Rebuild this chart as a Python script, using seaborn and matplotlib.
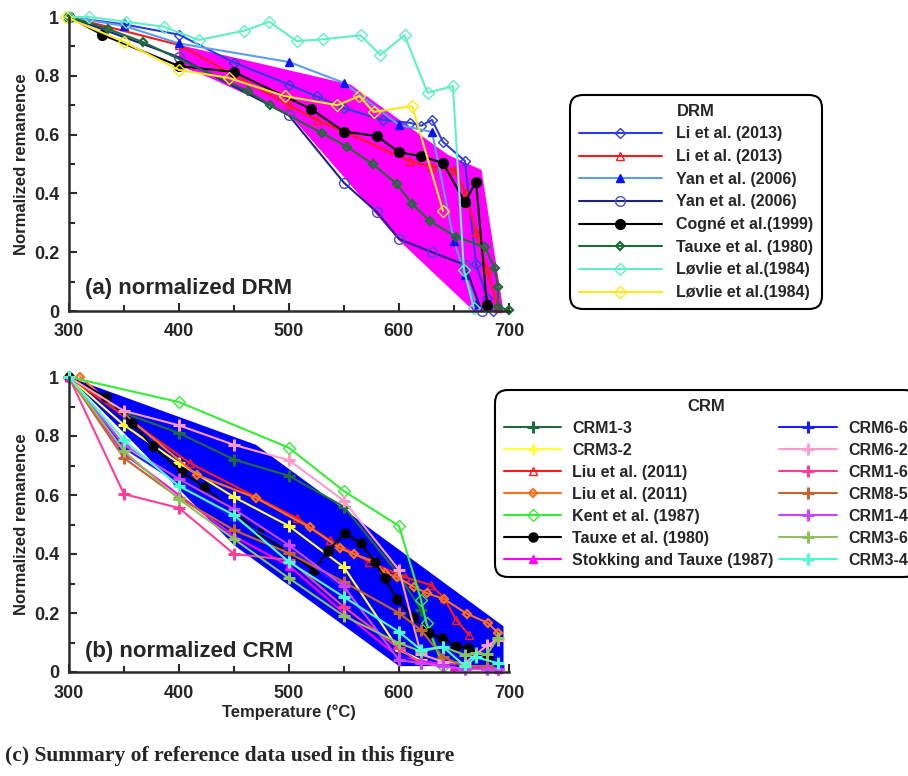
import numpy as np
import pandas as pd
import matplotlib
matplotlib.use("Agg")
import matplotlib.pyplot as plt
import seaborn as sns
from matplotlib.ticker import MultipleLocator, FuncFormatter

# ---------------- DRM data: temperature (degC) and normalized remanence ----------------
li13_blue_T = [300, 350, 400, 450, 500, 525, 550, 585, 610, 620, 630, 640, 660, 670, 680, 685]
li13_blue_v = [1.0, 0.975, 0.94, 0.845, 0.77, 0.73, 0.69, 0.65, 0.64, 0.63, 0.65, 0.575, 0.51, 0.16, 0.045, 0.0]

li13_red_T = [300, 400, 500, 525, 550, 610, 630, 650, 660, 670, 680, 690]
li13_red_v = [1.0, 0.905, 0.70, 0.65, 0.61, 0.51, 0.49, 0.48, 0.405, 0.27, 0.14, 0.01]

yan06_tri_T = [300, 350, 400, 500, 550, 600, 630, 650, 660, 670]
yan06_tri_v = [1.0, 0.97, 0.91, 0.847, 0.776, 0.633, 0.609, 0.238, 0.122, 0.024]

yan06_circ_T = [300, 400, 500, 550, 580, 600, 630, 660, 675]
yan06_circ_v = [1.0, 0.863, 0.665, 0.436, 0.336, 0.245, 0.20, 0.157, 0.0]

cogne99_T = [300, 330, 400, 450, 520, 550, 580, 600, 620, 640, 660, 670, 680]
cogne99_v = [1.0, 0.94, 0.833, 0.813, 0.687, 0.61, 0.595, 0.54, 0.527, 0.503, 0.37, 0.44, 0.02]

tauxe80_drm_T = [300, 335, 367, 463, 483, 530, 553, 576, 598, 612, 628, 652, 678, 687, 690, 690, 700]
tauxe80_drm_v = [1.0, 0.96, 0.915, 0.747, 0.70, 0.605, 0.558, 0.50, 0.432, 0.364, 0.306, 0.252, 0.218, 0.146, 0.082, 0.014, 0.003]

lovlie84_a_T = [300, 318, 352, 386, 418, 459, 482, 507, 531, 565, 583, 605, 626, 649, 659, 668]
lovlie84_a_v = [1.0, 1.0, 0.984, 0.967, 0.922, 0.953, 0.984, 0.918, 0.924, 0.938, 0.871, 0.938, 0.742, 0.765, 0.14, 0.01]

lovlie84_b_T = [297, 350, 400, 445, 496, 544, 564, 577, 612, 640]
lovlie84_b_v = [1.0, 0.915, 0.82, 0.793, 0.731, 0.70, 0.731, 0.677, 0.697, 0.34]

drm_env_T = [400, 470, 556, 645, 675, 695, 668, 600, 500, 430, 400]
drm_env_v = [0.905, 0.845, 0.77, 0.53, 0.48, 0.0, 0.0, 0.24, 0.67, 0.79, 0.835]

# ---------------- CRM data ----------------
crm13_T = [300, 350, 400, 450, 500, 550, 600, 620, 640, 660, 680]
crm13_v = [1.0, 0.878, 0.81, 0.72, 0.665, 0.56, 0.33, 0.21, 0.03, 0.02, 0.02]

crm32_T = [300, 350, 400, 450, 500, 550, 600, 620, 640, 660, 680]
crm32_v = [1.0, 0.837, 0.708, 0.593, 0.495, 0.355, 0.075, 0.04, 0.02, 0.02, 0.02]

liu11_red_T = [300, 410, 507, 537, 573, 605, 629, 641, 652, 664]
liu11_red_v = [1.0, 0.708, 0.522, 0.447, 0.373, 0.322, 0.295, 0.251, 0.176, 0.125]

liu11_org_T = [310, 416, 470, 519, 546, 559, 578, 587, 598, 614, 625, 641, 662, 681, 690]
liu11_org_v = [1.0, 0.668, 0.59, 0.49, 0.42, 0.40, 0.373, 0.336, 0.322, 0.288, 0.268, 0.247, 0.197, 0.166, 0.132]

kent87_T = [300, 400, 500, 550, 600, 620, 625, 640]
kent87_v = [1.0, 0.915, 0.76, 0.613, 0.495, 0.245, 0.165, 0.02]

tauxe80_crm_T = [300, 334, 357, 376, 403, 423, 473, 523, 535, 551, 565, 578, 587, 598, 613, 627, 639, 652, 663, 681]
tauxe80_crm_v = [1.0, 0.932, 0.844, 0.766, 0.678, 0.627, 0.471, 0.346, 0.41, 0.471, 0.437, 0.373, 0.319, 0.247, 0.186, 0.132, 0.115, 0.088, 0.081, 0.047]

stokking87_T = [300, 350, 400, 450, 500, 550, 600, 650, 690]
stokking87_v = [1.0, 0.74, 0.60, 0.46, 0.36, 0.20, 0.05, 0.02, 0.01]

crm66_T = [300, 350, 400, 450, 500, 550, 600, 620, 640, 660, 680, 690]
crm66_v = [1.0, 0.76, 0.64, 0.52, 0.42, 0.28, 0.05, 0.03, 0.02, 0.02, 0.02, 0.02]

crm62_T = [300, 350, 400, 450, 500, 550, 600, 620, 640, 660, 680, 690]
crm62_v = [1.0, 0.885, 0.836, 0.77, 0.718, 0.58, 0.346, 0.06, 0.035, 0.03, 0.09, 0.11]

crm16_T = [300, 350, 400, 450, 500, 550, 600, 620, 640, 660, 680, 690]
crm16_v = [1.0, 0.603, 0.556, 0.40, 0.38, 0.22, 0.08, 0.03, 0.02, 0.01, 0.01, 0.01]

crm85_T = [300, 350, 400, 450, 500, 550, 600, 620, 640, 660, 680, 690]
crm85_v = [1.0, 0.725, 0.59, 0.481, 0.403, 0.305, 0.20, 0.142, 0.05, 0.02, 0.02, 0.01]

crm14_T = [300, 350, 400, 450, 500, 550, 600, 620, 640, 660, 680, 690]
crm14_v = [1.0, 0.77, 0.654, 0.552, 0.43, 0.29, 0.04, 0.03, 0.02, 0.01, 0.01, 0.01]

crm36_T = [300, 350, 400, 450, 500, 550, 600, 620, 640, 660, 670, 680, 690]
crm36_v = [1.0, 0.749, 0.586, 0.451, 0.318, 0.19, 0.098, 0.07, 0.085, 0.058, 0.065, 0.06, 0.115]

crm34_T = [300, 350, 400, 450, 500, 550, 600, 620, 640, 660, 670, 690]
crm34_v = [1.0, 0.786, 0.63, 0.532, 0.373, 0.254, 0.136, 0.075, 0.085, 0.02, 0.05, 0.03]

crm_env_T = [300, 470, 695, 695, 600, 450, 400]
crm_env_v = [1.0, 0.77, 0.155, 0.02, 0.02, 0.43, 0.62]

# ---------------- styling ----------------
sns.set_theme(style="ticks")
plt.rcParams["font.family"] = ["Liberation Sans", "DejaVu Sans"]
plt.rcParams["font.weight"] = "bold"
plt.rcParams["axes.labelweight"] = "bold"

W, H = 908, 776
fig = plt.figure(figsize=(W / 100, H / 100), dpi=100)

def px_axes(left, top, right, bottom):
    return fig.add_axes([left / W, 1 - bottom / H, (right - left) / W, (bottom - top) / H])

ax_a = px_axes(69, 17, 509, 311)
ax_b = px_axes(69, 377, 509, 672)


def series(ax, T, v, label, color, marker, ms=5.5, mfc="none", mec=None, mew=1.0, lw=1.5):
    df = pd.DataFrame({"T": T, "v": v})
    sns.lineplot(data=df, x="T", y="v", ax=ax, sort=False, estimator=None,
                 color=color, marker=marker, markersize=ms,
                 markerfacecolor=mfc, markeredgecolor=mec or color,
                 markeredgewidth=mew, linewidth=lw, label=label, clip_on=False)


# Panel (a): DRM
ax_a.fill(drm_env_T, drm_env_v, color="#ff00ff", lw=0, zorder=1)
series(ax_a, li13_blue_T, li13_blue_v, "Li et al. (2013)", "#2b3fe0", "D", ms=5)
series(ax_a, li13_red_T, li13_red_v, "Li et al. (2013)", "#ff1a1a", "^", ms=6)
series(ax_a, yan06_tri_T, yan06_tri_v, "Yan et al. (2006)", "#5c9cf2", "^", ms=6,
       mfc="#0a14f0", mec="#0a14f0")
series(ax_a, yan06_circ_T, yan06_circ_v, "Yan et al. (2006)", "#1c2388", "o", ms=7,
       mec="#4a4ad0")
series(ax_a, cogne99_T, cogne99_v, "Cogné et al.(1999)", "black", "o", ms=7, mfc="black")
series(ax_a, tauxe80_drm_T, tauxe80_drm_v, "Tauxe et al. (1980)", "#1e6b3a", "D", ms=4.5,
       mew=1.6)
series(ax_a, lovlie84_a_T, lovlie84_a_v, "Løvlie et al.(1984)", "#5ff0c4", "D", ms=6)
series(ax_a, lovlie84_b_T, lovlie84_b_v, "Løvlie et al.(1984)", "#fbe91c", "D", ms=6)

# Panel (b): CRM
ax_b.fill(crm_env_T, crm_env_v, color="#0000ff", lw=0, zorder=1)
series(ax_b, crm13_T, crm13_v, "CRM1-3", "#1d6b3e", "+", ms=9, mew=2.2)
series(ax_b, crm32_T, crm32_v, "CRM3-2", "#ffff38", "+", ms=9, mew=2.2)
series(ax_b, liu11_red_T, liu11_red_v, "Liu et al. (2011)", "#ff1a1a", "^", ms=6)
series(ax_b, liu11_org_T, liu11_org_v, "Liu et al. (2011)", "#ff6f1e", "D", ms=4.5, mew=1.6)
series(ax_b, kent87_T, kent87_v, "Kent et al. (1987)", "#33ee33", "D", ms=6)
series(ax_b, tauxe80_crm_T, tauxe80_crm_v, "Tauxe et al. (1980)", "black", "o", ms=6.5, mfc="black")
series(ax_b, stokking87_T, stokking87_v, "Stokking and Tauxe (1987)", "#ff00ff", "^", ms=6,
       mfc="#ff00ff")
series(ax_b, crm66_T, crm66_v, "CRM6-6", "#1c1cff", "+", ms=9, mew=2.2)
series(ax_b, crm62_T, crm62_v, "CRM6-2", "#ff9ccc", "+", ms=9, mew=2.2)
series(ax_b, crm16_T, crm16_v, "CRM1-6", "#ff3d96", "+", ms=9, mew=2.2)
series(ax_b, crm85_T, crm85_v, "CRM8-5", "#c8632e", "+", ms=9, mew=2.2)
series(ax_b, crm14_T, crm14_v, "CRM1-4", "#cc44ff", "+", ms=9, mew=2.2)
series(ax_b, crm36_T, crm36_v, "CRM3-6", "#8cc25a", "+", ms=9, mew=2.2)
series(ax_b, crm34_T, crm34_v, "CRM3-4", "#48ffd0", "+", ms=9, mew=2.2)

fmt = FuncFormatter(lambda val, pos: f"{val:g}")
for ax in (ax_a, ax_b):
    ax.set_xlim(300, 700)
    ax.set_ylim(0, 1)
    ax.set_facecolor("white")
    sns.despine(ax=ax)
    for side in ("left", "bottom"):
        ax.spines[side].set_linewidth(1.8)
        ax.spines[side].set_color("#2a2a2a")
    ax.xaxis.set_major_locator(MultipleLocator(100))
    ax.xaxis.set_minor_locator(MultipleLocator(50))
    ax.yaxis.set_major_locator(MultipleLocator(0.2))
    ax.yaxis.set_minor_locator(MultipleLocator(0.1))
    ax.yaxis.set_major_formatter(fmt)
    ax.tick_params(which="both", direction="in", width=1.5, color="#2a2a2a")
    ax.tick_params(which="major", length=6)
    ax.tick_params(which="minor", length=4)
    ax.tick_params(axis="x", pad=9, labelsize=13)
    ax.tick_params(axis="y", pad=7, labelsize=13)
    for lab in ax.get_xticklabels() + ax.get_yticklabels():
        lab.set_fontweight("bold")
    ax.set_ylabel("Normalized remanence", fontsize=12, fontweight="bold")
    ax.yaxis.set_label_coords(-0.09, 0.5)
    ax.set_xlabel("")

ax_b.set_xlabel("Temperature (°C)", fontsize=12, fontweight="bold")
ax_b.xaxis.set_label_coords(0.5, -0.11)

ax_a.text(0.036, 0.078, "(a) normalized DRM", transform=ax_a.transAxes, fontsize=16,
          fontweight="bold", va="center", ha="left")
ax_b.text(0.036, 0.068, "(b) normalized CRM", transform=ax_b.transAxes, fontsize=16,
          fontweight="bold", va="center", ha="left")

# Legends
h, l = ax_a.get_legend_handles_labels()
leg_a = ax_a.legend(h, l, title="DRM", loc="upper left",
                    bbox_to_anchor=(570 / W, 1 - 95 / H), bbox_transform=fig.transFigure,
                    borderaxespad=0, frameon=True, fancybox=True, framealpha=1,
                    edgecolor="black", prop=dict(weight="bold", size=11.5),
                    title_fontproperties=dict(weight="bold", size=12),
                    handlelength=5.2, handletextpad=0.9, labelspacing=0.48,
                    borderpad=0.55)
leg_a.get_frame().set_linewidth(1.5)
leg_a.get_frame().set_boxstyle("round,pad=0,rounding_size=0.8")

h, l = ax_b.get_legend_handles_labels()
leg_b = ax_b.legend(h, l, title="CRM", ncol=2, loc="upper left",
                    bbox_to_anchor=(495 / W, 1 - 390 / H), bbox_transform=fig.transFigure,
                    borderaxespad=0, frameon=True, fancybox=True, framealpha=1,
                    edgecolor="black", prop=dict(weight="bold", size=11.5),
                    title_fontproperties=dict(weight="bold", size=12),
                    handlelength=3.6, handletextpad=0.7, labelspacing=0.44,
                    columnspacing=0.35, borderpad=0.55)
leg_b.get_frame().set_linewidth(1.5)
leg_b.get_frame().set_boxstyle("round,pad=0,rounding_size=0.8")

fig.text(5 / W, 1 - 756 / H, "(c) Summary of reference data used in this figure",
         family=["Liberation Serif", "DejaVu Serif"], fontsize=15.5, fontweight="bold",
         va="center", ha="left")

fig.savefig("out.png", dpi=100, facecolor="white")
